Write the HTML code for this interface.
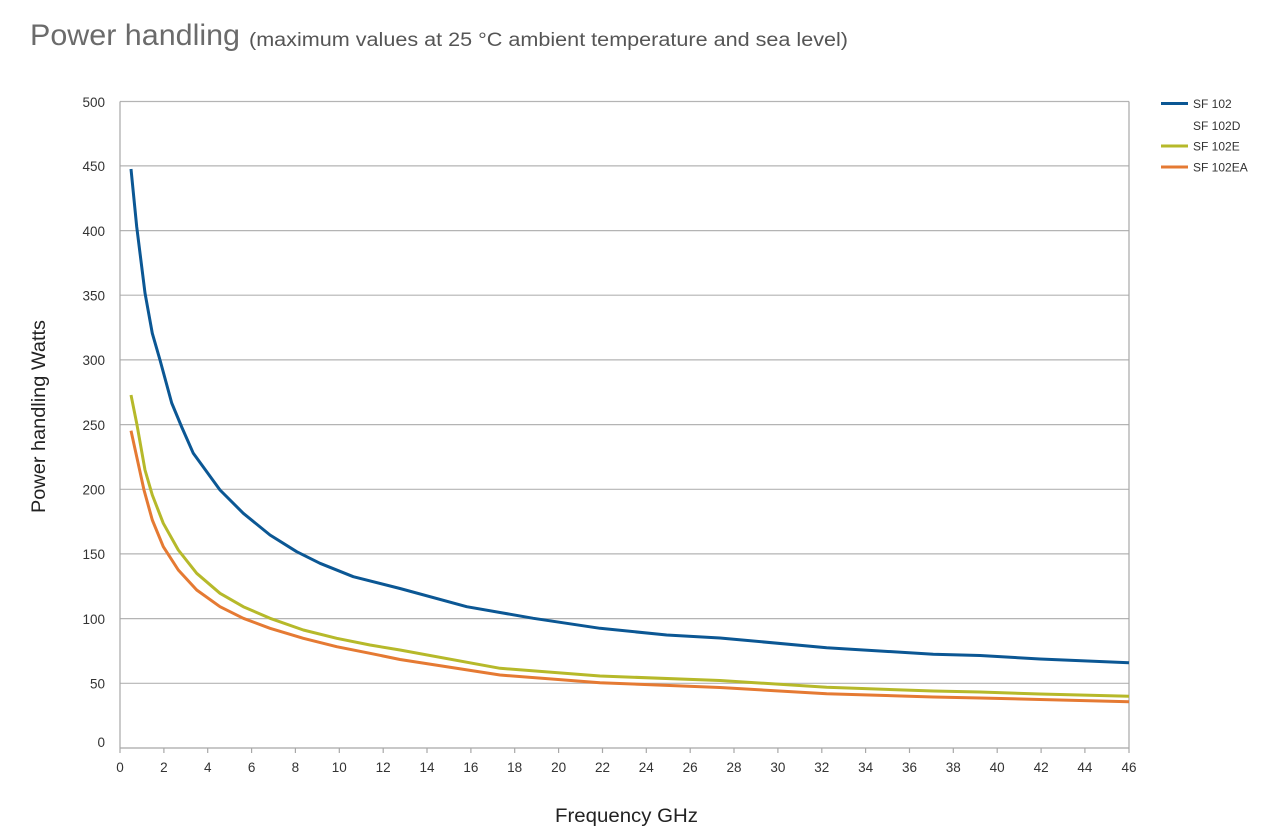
<!DOCTYPE html>
<html>
<head>
<meta charset="utf-8">
<style>
  html, body { margin: 0; padding: 0; background: #fff; }
  body { width: 1287px; height: 830px; overflow: hidden; }
  svg { display: block; font-family: "Liberation Sans", "DejaVu Sans", sans-serif; }
</style>
</head>
<body>
<svg width="1287" height="830" viewBox="0 0 1287 830" xmlns="http://www.w3.org/2000/svg">
  <rect width="1287" height="830" fill="#fff"/>

  <!-- Title -->
  <text x="30" y="45" font-size="30" fill="#6b6b6b" textLength="210" lengthAdjust="spacingAndGlyphs">Power handling</text>
  <text x="249" y="46" font-size="19" fill="#555" textLength="599" lengthAdjust="spacingAndGlyphs">(maximum values at 25 °C ambient temperature and sea level)</text>

  <!-- Gridlines -->
  <g stroke="#b4b4b4" stroke-width="1.2">
    <line x1="120" y1="683.3" x2="1129" y2="683.3"/>
    <line x1="120" y1="618.6" x2="1129" y2="618.6"/>
    <line x1="120" y1="553.9" x2="1129" y2="553.9"/>
    <line x1="120" y1="489.3" x2="1129" y2="489.3"/>
    <line x1="120" y1="424.6" x2="1129" y2="424.6"/>
    <line x1="120" y1="359.9" x2="1129" y2="359.9"/>
    <line x1="120" y1="295.2" x2="1129" y2="295.2"/>
    <line x1="120" y1="230.6" x2="1129" y2="230.6"/>
    <line x1="120" y1="165.9" x2="1129" y2="165.9"/>
    <line x1="120" y1="101.5" x2="1129" y2="101.5"/>
  </g>
  <!-- Axes frame -->
  <g stroke="#a8a8a8" stroke-width="1.2">
    <line x1="120" y1="101.5" x2="120" y2="748"/>
    <line x1="1129" y1="101.5" x2="1129" y2="748"/>
    <line x1="120" y1="748" x2="1129" y2="748"/>
  </g>
  <!-- X ticks -->
  <g stroke="#a8a8a8" stroke-width="1.2">
    <line x1="120" y1="748" x2="120" y2="753"/>
    <line x1="163.9" y1="748" x2="163.9" y2="753"/>
    <line x1="207.7" y1="748" x2="207.7" y2="753"/>
    <line x1="251.6" y1="748" x2="251.6" y2="753"/>
    <line x1="295.4" y1="748" x2="295.4" y2="753"/>
    <line x1="339.3" y1="748" x2="339.3" y2="753"/>
    <line x1="383.2" y1="748" x2="383.2" y2="753"/>
    <line x1="427" y1="748" x2="427" y2="753"/>
    <line x1="470.9" y1="748" x2="470.9" y2="753"/>
    <line x1="514.7" y1="748" x2="514.7" y2="753"/>
    <line x1="558.6" y1="748" x2="558.6" y2="753"/>
    <line x1="602.5" y1="748" x2="602.5" y2="753"/>
    <line x1="646.3" y1="748" x2="646.3" y2="753"/>
    <line x1="690.2" y1="748" x2="690.2" y2="753"/>
    <line x1="734" y1="748" x2="734" y2="753"/>
    <line x1="777.9" y1="748" x2="777.9" y2="753"/>
    <line x1="821.8" y1="748" x2="821.8" y2="753"/>
    <line x1="865.6" y1="748" x2="865.6" y2="753"/>
    <line x1="909.5" y1="748" x2="909.5" y2="753"/>
    <line x1="953.3" y1="748" x2="953.3" y2="753"/>
    <line x1="997.2" y1="748" x2="997.2" y2="753"/>
    <line x1="1041.1" y1="748" x2="1041.1" y2="753"/>
    <line x1="1084.9" y1="748" x2="1084.9" y2="753"/>
    <line x1="1129" y1="748" x2="1129" y2="753"/>
  </g>

  <!-- Y tick labels -->
  <g font-size="13.5" fill="#333" text-anchor="end">
    <text x="105" y="747">0</text>
    <text x="105" y="688.5">50</text>
    <text x="105" y="623.8">100</text>
    <text x="105" y="559.1">150</text>
    <text x="105" y="494.5">200</text>
    <text x="105" y="429.8">250</text>
    <text x="105" y="365.1">300</text>
    <text x="105" y="300.4">350</text>
    <text x="105" y="235.8">400</text>
    <text x="105" y="171.1">450</text>
    <text x="105" y="107">500</text>
  </g>

  <!-- X tick labels -->
  <g font-size="13.5" fill="#333" text-anchor="middle">
    <text x="120" y="772">0</text>
    <text x="163.9" y="772">2</text>
    <text x="207.7" y="772">4</text>
    <text x="251.6" y="772">6</text>
    <text x="295.4" y="772">8</text>
    <text x="339.3" y="772">10</text>
    <text x="383.2" y="772">12</text>
    <text x="427" y="772">14</text>
    <text x="470.9" y="772">16</text>
    <text x="514.7" y="772">18</text>
    <text x="558.6" y="772">20</text>
    <text x="602.5" y="772">22</text>
    <text x="646.3" y="772">24</text>
    <text x="690.2" y="772">26</text>
    <text x="734" y="772">28</text>
    <text x="777.9" y="772">30</text>
    <text x="821.8" y="772">32</text>
    <text x="865.6" y="772">34</text>
    <text x="909.5" y="772">36</text>
    <text x="953.3" y="772">38</text>
    <text x="997.2" y="772">40</text>
    <text x="1041.1" y="772">42</text>
    <text x="1084.9" y="772">44</text>
    <text x="1129" y="772">46</text>
  </g>

  <!-- Axis titles -->
  <text x="555" y="822" font-size="19" fill="#222" textLength="143" lengthAdjust="spacingAndGlyphs">Frequency GHz</text>
  <text transform="translate(45,513) rotate(-90)" x="0" y="0" font-size="19" fill="#222" textLength="193" lengthAdjust="spacingAndGlyphs">Power handling Watts</text>

  <!-- Series -->
  <g fill="none" stroke-width="3" stroke-linejoin="round" stroke-linecap="butt">
    <polyline stroke="#e57a33" points="131,430.7 136.7,456.7 144,490 152.3,520 163.3,546.7 178.3,570 196.7,590 220,606.7 243.3,618.3 270,628.3 303.3,638.3 336.7,646.7 370,653.3 400,659.5 500,675 600,682.7 720,687.5 826.7,693.7 933.3,697 980,698 1040,699.5 1129,701.7"/>
    <polyline stroke="#b6b92a" points="131,395 136.7,423.3 145,470 152.3,495 163.3,523.3 178.3,550 196.7,573.3 220,593.3 243.3,606.7 270,618.3 303.3,630 336.7,638.3 370,645 400,650 500,668.3 600,676 720,680.5 826.7,687.3 933.3,691 980,692 1040,694 1129,696.3"/>
    <polyline stroke="#0b5794" points="131,169 136.7,226.7 145,293 152.3,333.3 160,360 171.7,403 181.7,427 193.3,453.3 220,490 243.3,513.3 270,535 296.7,551.7 320,563.3 353.3,576.7 400,588.5 466.7,606.7 533.3,618.3 600,628.3 666.7,635 720,638 826.7,647.7 933.3,654.3 980,655.5 1040,659 1129,662.7"/>
  </g>

  <!-- Legend -->
  <g stroke-width="3">
    <line x1="1161" y1="103.5" x2="1188" y2="103.5" stroke="#0b5794"/>
    <line x1="1161" y1="146" x2="1188" y2="146" stroke="#b6b92a"/>
    <line x1="1161" y1="167" x2="1188" y2="167" stroke="#e57a33"/>
  </g>
  <g font-size="12" fill="#333">
    <text x="1193" y="108">SF 102</text>
    <text x="1193" y="130">SF 102D</text>
    <text x="1193" y="150.5">SF 102E</text>
    <text x="1193" y="171.5">SF 102EA</text>
  </g>
</svg>
</body>
</html>
